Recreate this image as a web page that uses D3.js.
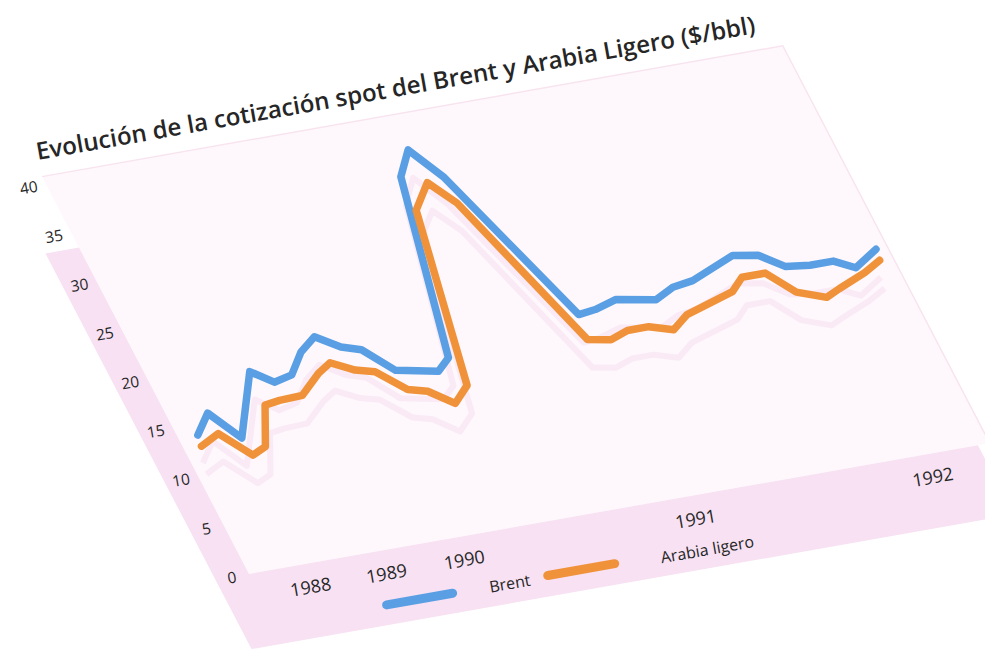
<!DOCTYPE html>
<html>
<head>
<meta charset="utf-8">
<script src="https://cdn.jsdelivr.net/npm/d3@7/dist/d3.min.js"></script>
<style>
  html, body { margin: 0; padding: 0; background: #ffffff; }
  svg { display: block; }
</style>
</head>
<body>
<svg id="chart" width="985" height="655"></svg>
<script>
// ---------- DATA ----------
const titleText = "Evolución de la cotización spot del Brent y Arabia Ligero ($/bbl)";
const seriesNames = ["Brent", "Arabia ligero"];

const brentPeriods = [1.0, 2.0, 3.0, 5.0, 5.9, 6.9, 7.9, 8.9, 9.9, 10.8, 11.9, 13.9, 14.7, 16.9, 17.9, 18.9, 21.9, 22.8, 24.0, 25.9, 27.0, 28.1, 30.6, 31.8, 32.8, 34.0, 35.2, 36.1, 37.5];
const brentValues  = [13.9, 15.8, 12.9, 19.0, 17.6, 18.0, 20.0, 21.2, 19.8, 19.2, 16.7, 15.9, 17.0, 34.8, 37.2, 34.1, 18.9, 19.1, 19.7, 19.0, 19.9, 20.2, 21.9, 21.5, 20.0, 19.7, 19.7, 18.7, 20.1];

const arabiaPeriods = [0.9, 2.0, 3.1, 3.9, 4.9, 5.7, 6.9, 8.2, 9.0, 10.0, 10.9, 12.0, 12.9, 13.9, 14.9, 16.8, 18.0, 18.9, 21.7, 22.8, 23.8, 24.9, 26.0, 27.0, 29.7, 30.5, 31.7, 32.7, 34.0, 34.8, 36.4, 37.4];
const arabiaValues  = [12.8, 13.7, 11.1, 11.7, 15.6, 15.8, 15.9, 17.7, 18.5, 17.4, 16.9, 14.7, 14.2, 12.6, 14.1, 31.4, 33.8, 31.4, 16.4, 16.0, 16.6, 16.6, 15.9, 17.1, 18.5, 19.7, 19.7, 17.4, 16.4, 17.0, 18.1, 19.0];

const yTicks = [0, 5, 10, 15, 20, 25, 30, 35, 40];
const xTickLabels = ["1988", "1989", "1990", "1991", "1992"];
const xTickPeriods = [2.6, 6.5, 10.5, 22.4, 34.6];

// ---------- LAYOUT ----------
// The chart lies on a tilted/sheared plane: local (lx, ly) -> page coordinates
const M = { a: 0.985, b: -0.174, c: 0.462, d: 0.887, e: 249, f: 574 };
function P(lx, ly) { return [M.e + M.a * lx + M.c * ly, M.f + M.b * lx + M.d * ly]; }
const angle = Math.atan2(M.b, M.a) * 180 / Math.PI;

const x = d3.scaleLinear().domain([0, 38]).range([0, 750]);
const y = d3.scaleLinear().domain([0, 40]).range([0, -439.6]);

const colors = { brent: "#5a9fe4", arabia: "#f0923a", band: "#f7e1f2", plane: "#fef8fc", shadow: "#f3d9ee", text: "#262626" };

const svg = d3.select("#chart");
const poly = pts => pts.map(p => P(p[0], p[1]).join(",")).join(" ");

// plane (plot area)
const planeW = 752, planeTop = -448;
svg.append("polygon")
  .attr("points", poly([[0, planeTop], [planeW, planeTop], [planeW, 0], [0, 0]]))
  .attr("fill", colors.plane);
svg.append("polyline")
  .attr("points", poly([[0, planeTop], [planeW, planeTop], [planeW, 0]]))
  .attr("fill", "none").attr("stroke", "#f8e4ef").attr("stroke-width", 1.5);

// L-shaped pink axis band
svg.append("polygon")
  .attr("points", poly([[-34, -368], [0, -368], [0, 0], [740, 0], [740, 78], [-34, 78]]))
  .attr("fill", colors.band);

// series
const brentData = brentPeriods.map((t, i) => ({ t, v: brentValues[i] }));
const arabiaData = arabiaPeriods.map((t, i) => ({ t, v: arabiaValues[i] }));

const line = d3.line()
  .x(d => P(x(d.t), y(d.v))[0])
  .y(d => P(x(d.t), y(d.v))[1]);

// faint print shadows
[brentData, arabiaData].forEach(data => {
  svg.append("path")
    .attr("d", line(data))
    .attr("transform", "translate(5,28)")
    .attr("fill", "none")
    .attr("stroke", colors.shadow)
    .attr("stroke-width", 6)
    .attr("stroke-linejoin", "round")
    .attr("opacity", 0.45);
});

svg.append("path")
  .attr("d", line(brentData))
  .attr("fill", "none").attr("stroke", colors.brent)
  .attr("stroke-width", 7.5).attr("stroke-linejoin", "round").attr("stroke-linecap", "round");
svg.append("path")
  .attr("d", line(arabiaData))
  .attr("fill", "none").attr("stroke", colors.arabia)
  .attr("stroke-width", 7.5).attr("stroke-linejoin", "round").attr("stroke-linecap", "round");

// helper for rotated text
function label(txt, lx, ly, opts) {
  const p = P(lx, ly);
  const g = svg.append("g").attr("transform", `translate(${p[0]},${p[1]}) rotate(${angle})`);
  const t = g.append("text")
    .text(txt)
    .attr("font-family", "'Open Sans', 'Noto Sans', sans-serif")
    .attr("font-size", opts.size)
    .attr("font-weight", opts.weight || 400)
    .attr("fill", colors.text)
    .attr("text-anchor", opts.anchor || "middle")
    .attr("dominant-baseline", opts.baseline || "central");
  return t;
}

// y-axis labels
yTicks.forEach(v => label(String(v), -17.5, y(v), { size: 15.5 }));

// x-axis labels
xTickLabels.forEach((s, i) => label(s, x(xTickPeriods[i]), 24, { size: 18 }));

// legend
function legendLine(l0, l1, ly, color) {
  const p0 = P(l0, ly), p1 = P(l1, ly);
  svg.append("line")
    .attr("x1", p0[0]).attr("y1", p0[1]).attr("x2", p1[0]).attr("y2", p1[1])
    .attr("stroke", color).attr("stroke-width", 9).attr("stroke-linecap", "round");
}
legendLine(113, 180, 57, colors.brent);
label(seriesNames[0], 238, 57, { size: 16 });
legendLine(277, 345, 56, colors.arabia);
label(seriesNames[1], 438, 58, { size: 16 });

// title, sized to span its measured length
const title = label(titleText, 4, -466, { size: 24, weight: 600, anchor: "start", baseline: "alphabetic" });
const len = title.node().getComputedTextLength();
title.attr("font-size", 24 * 730 / len);
</script>
</body>
</html>
